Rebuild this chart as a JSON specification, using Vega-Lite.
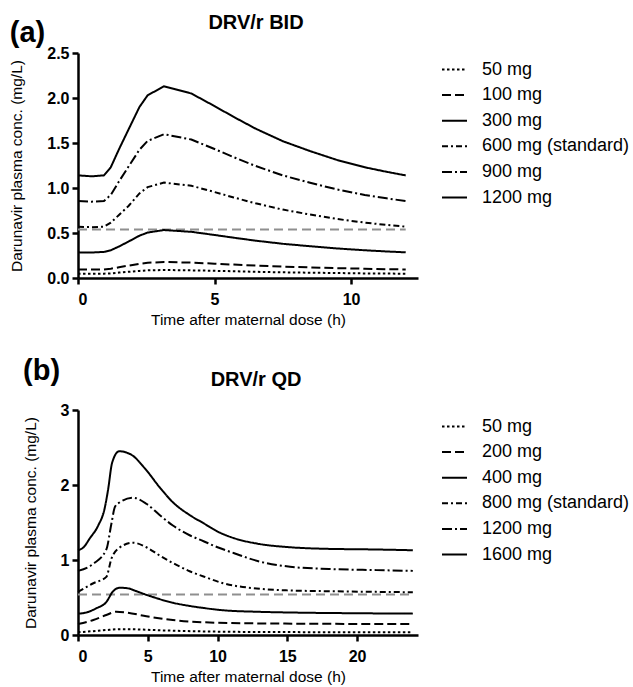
{
  "$schema": "https://vega.github.io/schema/vega-lite/v6.json",
  "padding": {"left": 9, "top": 13, "right": 0, "bottom": 0},
  "background": "white",
  "config": {
    "font": "Liberation Sans",
    "view": {"stroke": null},
    "mark": {"color": "black"},
    "axis": {"domainColor": "black", "domainWidth": 2.5, "tickColor": "black", "tickWidth": 2.5, "tickSize": 6, "labelFontSize": 16, "labelFontWeight": "bold", "labelColor": "black", "titleFontSize": 15.5, "titleFontWeight": "normal", "titleColor": "black", "grid": false},
    "axisX": {"titlePadding": 5, "labelPadding": 7},
    "axisY": {"titlePadding": 22, "labelPadding": 3},
    "legend": {"symbolType": "stroke", "symbolSize": 625, "symbolStrokeWidth": 2, "symbolStrokeColor": "black", "labelFontSize": 18, "labelColor": "black", "labelOffset": 14, "rowPadding": 2.6, "padding": 3, "offset": 20}
  },
  "datasets": {
    "bid": [
      {"d": "1200 mg", "t": 0, "c": 1.14}, {"d": "1200 mg", "t": 0.5, "c": 1.13}, {"d": "1200 mg", "t": 0.95, "c": 1.14}, {"d": "1200 mg", "t": 1.2, "c": 1.23}, {"d": "1200 mg", "t": 1.5, "c": 1.43}, {"d": "1200 mg", "t": 1.85, "c": 1.65}, {"d": "1200 mg", "t": 2.25, "c": 1.9}, {"d": "1200 mg", "t": 2.55, "c": 2.03}, {"d": "1200 mg", "t": 3.15, "c": 2.13}, {"d": "1200 mg", "t": 4.15, "c": 2.05}, {"d": "1200 mg", "t": 5.0, "c": 1.91}, {"d": "1200 mg", "t": 5.7, "c": 1.79}, {"d": "1200 mg", "t": 6.5, "c": 1.66}, {"d": "1200 mg", "t": 7.5, "c": 1.52}, {"d": "1200 mg", "t": 8.5, "c": 1.41}, {"d": "1200 mg", "t": 9.5, "c": 1.31}, {"d": "1200 mg", "t": 10.5, "c": 1.23}, {"d": "1200 mg", "t": 11.3, "c": 1.18}, {"d": "1200 mg", "t": 12.0, "c": 1.14},
      {"d": "900 mg", "t": 0, "c": 0.855}, {"d": "900 mg", "t": 0.5, "c": 0.848}, {"d": "900 mg", "t": 0.95, "c": 0.855}, {"d": "900 mg", "t": 1.2, "c": 0.923}, {"d": "900 mg", "t": 1.5, "c": 1.073}, {"d": "900 mg", "t": 1.85, "c": 1.238}, {"d": "900 mg", "t": 2.25, "c": 1.425}, {"d": "900 mg", "t": 2.55, "c": 1.523}, {"d": "900 mg", "t": 3.15, "c": 1.598}, {"d": "900 mg", "t": 4.15, "c": 1.538}, {"d": "900 mg", "t": 5.0, "c": 1.433}, {"d": "900 mg", "t": 5.7, "c": 1.343}, {"d": "900 mg", "t": 6.5, "c": 1.245}, {"d": "900 mg", "t": 7.5, "c": 1.14}, {"d": "900 mg", "t": 8.5, "c": 1.058}, {"d": "900 mg", "t": 9.5, "c": 0.983}, {"d": "900 mg", "t": 10.5, "c": 0.923}, {"d": "900 mg", "t": 11.3, "c": 0.885}, {"d": "900 mg", "t": 12.0, "c": 0.855},
      {"d": "600 mg (standard)", "t": 0, "c": 0.57}, {"d": "600 mg (standard)", "t": 0.5, "c": 0.565}, {"d": "600 mg (standard)", "t": 0.95, "c": 0.57}, {"d": "600 mg (standard)", "t": 1.2, "c": 0.615}, {"d": "600 mg (standard)", "t": 1.5, "c": 0.7}, {"d": "600 mg (standard)", "t": 1.85, "c": 0.8}, {"d": "600 mg (standard)", "t": 2.25, "c": 0.94}, {"d": "600 mg (standard)", "t": 2.55, "c": 1.01}, {"d": "600 mg (standard)", "t": 3.15, "c": 1.06}, {"d": "600 mg (standard)", "t": 4.15, "c": 1.025}, {"d": "600 mg (standard)", "t": 5.0, "c": 0.955}, {"d": "600 mg (standard)", "t": 5.7, "c": 0.895}, {"d": "600 mg (standard)", "t": 6.5, "c": 0.83}, {"d": "600 mg (standard)", "t": 7.5, "c": 0.76}, {"d": "600 mg (standard)", "t": 8.5, "c": 0.705}, {"d": "600 mg (standard)", "t": 9.5, "c": 0.655}, {"d": "600 mg (standard)", "t": 10.5, "c": 0.615}, {"d": "600 mg (standard)", "t": 11.3, "c": 0.59}, {"d": "600 mg (standard)", "t": 12.0, "c": 0.57},
      {"d": "300 mg", "t": 0, "c": 0.285}, {"d": "300 mg", "t": 0.5, "c": 0.283}, {"d": "300 mg", "t": 0.95, "c": 0.29}, {"d": "300 mg", "t": 1.2, "c": 0.308}, {"d": "300 mg", "t": 1.5, "c": 0.35}, {"d": "300 mg", "t": 1.85, "c": 0.405}, {"d": "300 mg", "t": 2.25, "c": 0.47}, {"d": "300 mg", "t": 2.55, "c": 0.505}, {"d": "300 mg", "t": 3.15, "c": 0.533}, {"d": "300 mg", "t": 4.15, "c": 0.513}, {"d": "300 mg", "t": 5.0, "c": 0.478}, {"d": "300 mg", "t": 5.7, "c": 0.448}, {"d": "300 mg", "t": 6.5, "c": 0.415}, {"d": "300 mg", "t": 7.5, "c": 0.38}, {"d": "300 mg", "t": 8.5, "c": 0.353}, {"d": "300 mg", "t": 9.5, "c": 0.328}, {"d": "300 mg", "t": 10.5, "c": 0.308}, {"d": "300 mg", "t": 11.3, "c": 0.295}, {"d": "300 mg", "t": 12.0, "c": 0.285},
      {"d": "100 mg", "t": 0, "c": 0.095}, {"d": "100 mg", "t": 0.5, "c": 0.094}, {"d": "100 mg", "t": 0.95, "c": 0.095}, {"d": "100 mg", "t": 1.2, "c": 0.103}, {"d": "100 mg", "t": 1.5, "c": 0.119}, {"d": "100 mg", "t": 1.85, "c": 0.138}, {"d": "100 mg", "t": 2.25, "c": 0.158}, {"d": "100 mg", "t": 2.55, "c": 0.169}, {"d": "100 mg", "t": 3.15, "c": 0.178}, {"d": "100 mg", "t": 4.15, "c": 0.171}, {"d": "100 mg", "t": 5.0, "c": 0.159}, {"d": "100 mg", "t": 5.7, "c": 0.149}, {"d": "100 mg", "t": 6.5, "c": 0.138}, {"d": "100 mg", "t": 7.5, "c": 0.127}, {"d": "100 mg", "t": 8.5, "c": 0.118}, {"d": "100 mg", "t": 9.5, "c": 0.109}, {"d": "100 mg", "t": 10.5, "c": 0.103}, {"d": "100 mg", "t": 11.3, "c": 0.098}, {"d": "100 mg", "t": 12.0, "c": 0.095},
      {"d": "50 mg", "t": 0, "c": 0.048}, {"d": "50 mg", "t": 0.5, "c": 0.047}, {"d": "50 mg", "t": 0.95, "c": 0.048}, {"d": "50 mg", "t": 1.2, "c": 0.051}, {"d": "50 mg", "t": 1.5, "c": 0.06}, {"d": "50 mg", "t": 1.85, "c": 0.069}, {"d": "50 mg", "t": 2.25, "c": 0.079}, {"d": "50 mg", "t": 2.55, "c": 0.085}, {"d": "50 mg", "t": 3.15, "c": 0.089}, {"d": "50 mg", "t": 4.15, "c": 0.085}, {"d": "50 mg", "t": 5.0, "c": 0.08}, {"d": "50 mg", "t": 5.7, "c": 0.075}, {"d": "50 mg", "t": 6.5, "c": 0.069}, {"d": "50 mg", "t": 7.5, "c": 0.063}, {"d": "50 mg", "t": 8.5, "c": 0.059}, {"d": "50 mg", "t": 9.5, "c": 0.055}, {"d": "50 mg", "t": 10.5, "c": 0.051}, {"d": "50 mg", "t": 11.3, "c": 0.049}, {"d": "50 mg", "t": 12.0, "c": 0.048}
    ],
    "qd": [
      {"d": "1600 mg", "t": 0, "c": 1.13}, {"d": "1600 mg", "t": 0.4, "c": 1.17}, {"d": "1600 mg", "t": 0.85, "c": 1.29}, {"d": "1600 mg", "t": 1.45, "c": 1.46}, {"d": "1600 mg", "t": 1.9, "c": 1.68}, {"d": "1600 mg", "t": 2.15, "c": 1.93}, {"d": "1600 mg", "t": 2.45, "c": 2.3}, {"d": "1600 mg", "t": 2.95, "c": 2.45}, {"d": "1600 mg", "t": 3.85, "c": 2.4}, {"d": "1600 mg", "t": 4.8, "c": 2.22}, {"d": "1600 mg", "t": 5.85, "c": 1.97}, {"d": "1600 mg", "t": 6.8, "c": 1.77}, {"d": "1600 mg", "t": 8.0, "c": 1.6}, {"d": "1600 mg", "t": 9.0, "c": 1.49}, {"d": "1600 mg", "t": 10.0, "c": 1.38}, {"d": "1600 mg", "t": 11.2, "c": 1.29}, {"d": "1600 mg", "t": 12.8, "c": 1.22}, {"d": "1600 mg", "t": 15.2, "c": 1.17}, {"d": "1600 mg", "t": 17.6, "c": 1.15}, {"d": "1600 mg", "t": 21.4, "c": 1.14}, {"d": "1600 mg", "t": 24, "c": 1.13},
      {"d": "1200 mg", "t": 0, "c": 0.855}, {"d": "1200 mg", "t": 1.1, "c": 0.95}, {"d": "1200 mg", "t": 2.03, "c": 1.14}, {"d": "1200 mg", "t": 2.4, "c": 1.49}, {"d": "1200 mg", "t": 2.65, "c": 1.71}, {"d": "1200 mg", "t": 3.0, "c": 1.77}, {"d": "1200 mg", "t": 3.95, "c": 1.83}, {"d": "1200 mg", "t": 4.9, "c": 1.75}, {"d": "1200 mg", "t": 5.85, "c": 1.6}, {"d": "1200 mg", "t": 6.8, "c": 1.46}, {"d": "1200 mg", "t": 8.0, "c": 1.33}, {"d": "1200 mg", "t": 9.0, "c": 1.25}, {"d": "1200 mg", "t": 10.0, "c": 1.17}, {"d": "1200 mg", "t": 11.2, "c": 1.09}, {"d": "1200 mg", "t": 13.0, "c": 0.98}, {"d": "1200 mg", "t": 15.2, "c": 0.91}, {"d": "1200 mg", "t": 18.0, "c": 0.88}, {"d": "1200 mg", "t": 21.4, "c": 0.865}, {"d": "1200 mg", "t": 24, "c": 0.855},
      {"d": "800 mg (standard)", "t": 0, "c": 0.575}, {"d": "800 mg (standard)", "t": 1.1, "c": 0.69}, {"d": "800 mg (standard)", "t": 2.03, "c": 0.775}, {"d": "800 mg (standard)", "t": 2.4, "c": 1.02}, {"d": "800 mg (standard)", "t": 2.87, "c": 1.15}, {"d": "800 mg (standard)", "t": 3.95, "c": 1.23}, {"d": "800 mg (standard)", "t": 4.9, "c": 1.17}, {"d": "800 mg (standard)", "t": 5.85, "c": 1.06}, {"d": "800 mg (standard)", "t": 6.8, "c": 0.96}, {"d": "800 mg (standard)", "t": 8.0, "c": 0.85}, {"d": "800 mg (standard)", "t": 9.0, "c": 0.78}, {"d": "800 mg (standard)", "t": 10.4, "c": 0.69}, {"d": "800 mg (standard)", "t": 12.8, "c": 0.62}, {"d": "800 mg (standard)", "t": 15.0, "c": 0.595}, {"d": "800 mg (standard)", "t": 17.6, "c": 0.585}, {"d": "800 mg (standard)", "t": 21.4, "c": 0.575}, {"d": "800 mg (standard)", "t": 24, "c": 0.57},
      {"d": "400 mg", "t": 0, "c": 0.285}, {"d": "400 mg", "t": 0.6, "c": 0.3}, {"d": "400 mg", "t": 1.3, "c": 0.355}, {"d": "400 mg", "t": 2.03, "c": 0.44}, {"d": "400 mg", "t": 2.5, "c": 0.58}, {"d": "400 mg", "t": 3.0, "c": 0.63}, {"d": "400 mg", "t": 3.65, "c": 0.62}, {"d": "400 mg", "t": 3.95, "c": 0.6}, {"d": "400 mg", "t": 5.15, "c": 0.52}, {"d": "400 mg", "t": 6.8, "c": 0.43}, {"d": "400 mg", "t": 8.05, "c": 0.386}, {"d": "400 mg", "t": 9.0, "c": 0.36}, {"d": "400 mg", "t": 10.4, "c": 0.33}, {"d": "400 mg", "t": 12.8, "c": 0.31}, {"d": "400 mg", "t": 15.2, "c": 0.3}, {"d": "400 mg", "t": 20, "c": 0.29}, {"d": "400 mg", "t": 24, "c": 0.285},
      {"d": "200 mg", "t": 0, "c": 0.146}, {"d": "200 mg", "t": 1.1, "c": 0.2}, {"d": "200 mg", "t": 2.03, "c": 0.266}, {"d": "200 mg", "t": 2.75, "c": 0.31}, {"d": "200 mg", "t": 3.45, "c": 0.3}, {"d": "200 mg", "t": 4.9, "c": 0.25}, {"d": "200 mg", "t": 6.8, "c": 0.2}, {"d": "200 mg", "t": 9.0, "c": 0.17}, {"d": "200 mg", "t": 12.8, "c": 0.155}, {"d": "200 mg", "t": 17, "c": 0.15}, {"d": "200 mg", "t": 24, "c": 0.146},
      {"d": "50 mg", "t": 0, "c": 0.036}, {"d": "50 mg", "t": 1.0, "c": 0.05}, {"d": "50 mg", "t": 2.0, "c": 0.066}, {"d": "50 mg", "t": 3.0, "c": 0.078}, {"d": "50 mg", "t": 4.0, "c": 0.076}, {"d": "50 mg", "t": 6.0, "c": 0.062}, {"d": "50 mg", "t": 9.0, "c": 0.048}, {"d": "50 mg", "t": 13, "c": 0.04}, {"d": "50 mg", "t": 24, "c": 0.036}
    ]
  },
  "spacing": 29,
  "resolve": {"scale": {"strokeDash": "independent", "x": "independent", "y": "independent"}, "legend": {"strokeDash": "independent"}},
  "vconcat": [
    {
      "title": {"text": "(a)", "anchor": "start", "fontSize": 29, "fontWeight": "bold", "color": "black", "offset": 0, "baseline": "alphabetic", "dy": 58},
      "vconcat": [
        {
          "title": {"text": "DRV/r BID", "fontSize": 20, "fontWeight": "bold", "color": "black", "anchor": "middle", "frame": "group", "offset": 12, "dx": 8},
          "width": 340,
          "height": 225,
          "layer": [
            {
              "data": {"values": [{"t": 0, "t2": 12, "c": 0.54}]},
              "mark": {"type": "rule", "color": "#8f8f8f", "strokeDash": [9, 5], "strokeWidth": 2},
              "encoding": {"x": {"field": "t", "type": "quantitative"}, "x2": {"field": "t2"}, "y": {"field": "c", "type": "quantitative"}}
            },
            {
              "data": {"name": "bid"},
              "mark": {"type": "line", "strokeWidth": 2, "color": "black"},
              "encoding": {
                "x": {"field": "t", "type": "quantitative", "scale": {"domain": [0, 12.45], "nice": false}, "axis": {"values": [0, 5, 10], "format": "d", "title": "Time after maternal dose (h)"}},
                "y": {"field": "c", "type": "quantitative", "scale": {"domain": [0, 2.5], "nice": false}, "axis": {"values": [0, 0.5, 1, 1.5, 2, 2.5], "format": ".1f", "title": "Darunavir plasma conc. (mg/L)"}},
                "strokeDash": {"field": "d", "type": "nominal", "scale": {"domain": ["50 mg", "100 mg", "300 mg", "600 mg (standard)", "900 mg", "1200 mg"], "range": [[2.5, 2.5], [9, 4], [1, 0], [6, 3, 2, 3], [10, 3, 2, 3], [1, 0]]}, "legend": {"title": null}}
              }
            }
          ]
        }
      ]
    },
    {
      "title": {"text": "(b)", "anchor": "start", "fontSize": 29, "fontWeight": "bold", "color": "black", "offset": 0, "baseline": "alphabetic", "dy": 39},
      "vconcat": [
        {
          "title": {"text": "DRV/r QD", "fontSize": 20, "fontWeight": "bold", "color": "black", "anchor": "middle", "frame": "group", "offset": 12, "dx": 8},
          "width": 340,
          "height": 225,
          "layer": [
            {
              "data": {"values": [{"t": 0, "t2": 24, "c": 0.54}]},
              "mark": {"type": "rule", "color": "#8f8f8f", "strokeDash": [9, 5], "strokeWidth": 2},
              "encoding": {"x": {"field": "t", "type": "quantitative"}, "x2": {"field": "t2"}, "y": {"field": "c", "type": "quantitative"}}
            },
            {
              "data": {"name": "qd"},
              "mark": {"type": "line", "strokeWidth": 2, "color": "black", "interpolate": "monotone"},
              "encoding": {
                "x": {"field": "t", "type": "quantitative", "scale": {"domain": [0, 24.37], "nice": false}, "axis": {"values": [0, 5, 10, 15, 20], "format": "d", "title": "Time after maternal dose (h)"}},
                "y": {"field": "c", "type": "quantitative", "scale": {"domain": [0, 3], "nice": false}, "axis": {"values": [0, 1, 2, 3], "format": "d", "title": "Darunavir plasma conc. (mg/L)"}},
                "strokeDash": {"field": "d", "type": "nominal", "scale": {"domain": ["50 mg", "200 mg", "400 mg", "800 mg (standard)", "1200 mg", "1600 mg"], "range": [[2.5, 2.5], [9, 4], [1, 0], [6, 3, 2, 3], [10, 3, 2, 3], [1, 0]]}, "legend": {"title": null}}
              }
            }
          ]
        }
      ]
    }
  ]
}
